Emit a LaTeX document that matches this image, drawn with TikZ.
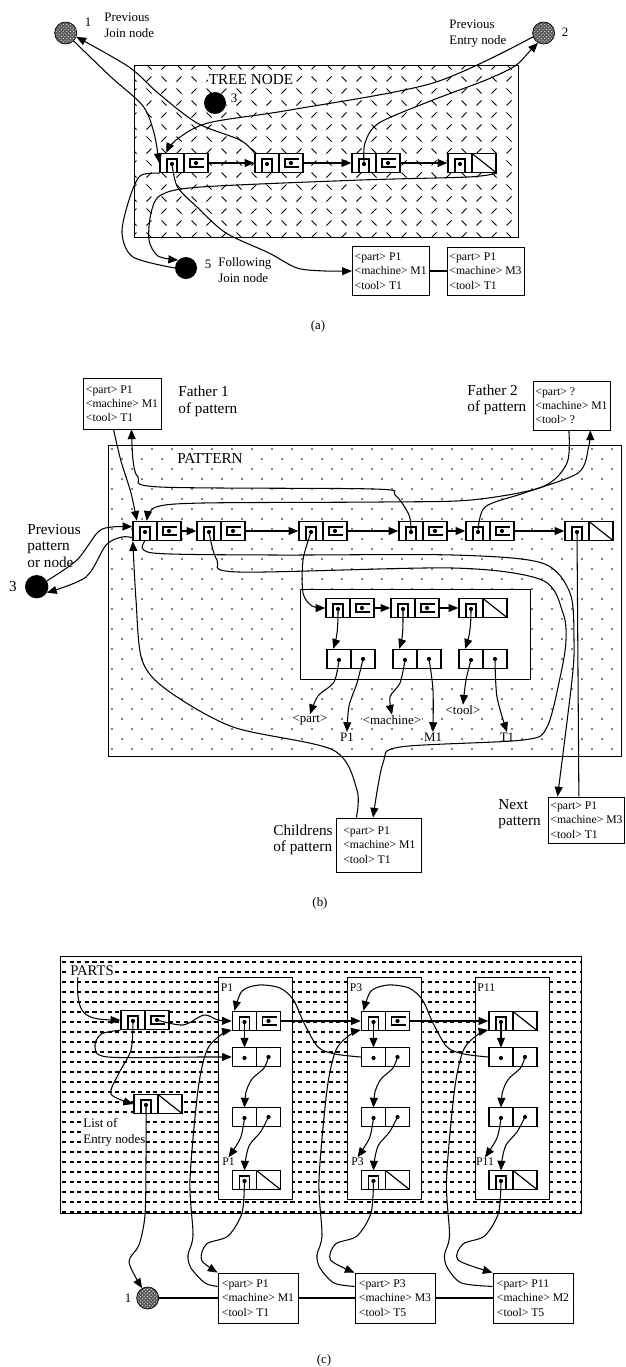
\documentclass[tikz,border=0pt]{standalone}
\usepackage{fontspec}
\setmainfont{Liberation Serif}
\usetikzlibrary{arrows,patterns}

\begin{document}
\begin{tikzpicture}[x=0.03cm,y=-0.03cm,>=triangle 45]
	\tikzset{
		conn/.style={line width=.9pt},
		cellbox/.style={draw,line width=1.3pt,minimum width=1.44cm,minimum height=0.57cm,inner sep=0pt,fill=white},
		glyph/.style={line width=1pt},
		rec/.style={draw,line width=.8pt,fill=white,align=left,inner sep=1.5pt,font=\fontsize{10}{12.2}\selectfont},
		lab/.style={font=\fontsize{13}{14.2}\selectfont,align=left,inner sep=1pt},
		alab/.style={font=\fontsize{11}{13.7}\selectfont,align=left,inner sep=1pt},
		clab/.style={font=\fontsize{10}{12}\selectfont,inner sep=1pt},
		hcirc/.style={circle,draw,line width=.6pt,minimum size=0.66cm,inner sep=0pt,preaction={fill=black!65},pattern=crosshatch dots,pattern color=white},
		bcirc/.style={circle,fill=black,minimum size=0.66cm,inner sep=0pt},
		pics/cell/.style={code={
			\node[cellbox] (-box) at (0,0) {};
			\draw[line width=1.3pt] (0,-9.5) -- (0,9.5);
			\coordinate (-l) at (-12,1);
			\coordinate (-r) at (12,0);
			\coordinate (-lt) at (-12,-9.5);
			\fill (-l) circle (1.8pt);
			\ifcase#1\or
				\draw[glyph] (-17,9.5) -- (-17,-4) -- (-7,-4) -- (-7,9.5);
				\draw[glyph] (20,-4) -- (6,-4) -- (6,4) -- (20,4);
				\fill (-r) circle (1.8pt);
			\or
				\fill (-r) circle (1.8pt);
			\or
				\draw[glyph] (-17,9.5) -- (-17,-4) -- (-7,-4) -- (-7,9.5);
				\draw[glyph] (0,-9.5) -- (24,9.5);
			\fi}}
	}
	\fill[white] (0,0) rectangle (626,1367);
	\useasboundingbox (0,0) rectangle (626,1367);

	\begin{scope}
		\clip (134,65) rectangle (518,237);
		\foreach \i in {0,...,26} \foreach \j in {0,...,14} {
			\pgfmathtruncatemacro{\k}{mod(\i+\j,2)}
			\ifnum\k=0 \draw[line width=.7pt] ({134+15*\i-2.5},{67+12*\j+2.5}) -- ++(5,-5);
			\else \draw[line width=.7pt] ({134+15*\i-2.5},{67+12*\j-2.5}) -- ++(5,5); \fi
		}
	\end{scope}
	\draw[line width=.8pt] (134,65) rectangle (518,237);
	\node[lab,fill=white] (ltree) at (251,80) {TREE NODE};
	\node[hcirc] (a1) at (65.7,33) {};
	\node[alab] (n1) at (88,22) {1};
	\node[alab,anchor=west] (pjn) at (103,25) {Previous\\Join node};
	\node[hcirc] (a2) at (543.6,33) {};
	\node[alab] (n2) at (565,32) {2};
	\node[alab,anchor=west] (pen) at (448,33.5) {Previous\\Entry node};
	\node[bcirc] (a3) at (215,103) {};
	\node[alab] (n3) at (234,98) {3};
	\node[bcirc] (a5) at (186,268) {};
	\node[alab] (n5) at (208,264) {5};
	\node[alab,anchor=west] (fjn) at (217,270) {Following\\Join node};
	\pic (ta1) at (184,163) {cell=1};
	\pic (ta2) at (279,163) {cell=1};
	\pic (ta3) at (376,163) {cell=1};
	\pic (ta4) at (472,163) {cell=3};
	\node[rec,minimum width=2.3cm,minimum height=1.45cm] (ra1) at (390.7,271) {<part> P1\\<machine> M1\\<tool> T1};
	\node[rec,minimum width=2.31cm,minimum height=1.44cm] (ra2) at (485.5,271) {<part> P1\\<machine> M3\\<tool> T1};
	\node[alab] (capa) at (318,326) {(a)};
	\draw[conn,->] (ta1-box.east) -- (ta2-box.west);
	\draw[conn,->] (ta2-box.east) -- (ta3-box.west);
	\draw[conn,->] (ta3-box.east) -- (ta4-box.west);
	\draw[conn,->] plot[smooth] coordinates {(a1.south east) (111,77) (143,106) (154,133) (ta1-box.west)};
	\draw[conn,->] plot[smooth] coordinates {(ta2-box.north west) (240,140) (197,123) (158,93) (129,67) (a1.340)};
	\draw[conn,->] plot[smooth] coordinates {(a2.200) (433,83) (290,110) (208,123) (176,140) (ta1-box.150)};
	\draw[conn,->] plot[smooth] coordinates {(ta3-l) (365,143) (379,123) (433,100) (486,80) (515,66) (529,52) (a2.240)};
	\draw[conn] plot[smooth] coordinates {(ta1-box.south west) (140,176) (129,200) (122,233) (133,257) (a5.west)};
	\draw[conn,->] plot[smooth] coordinates {(ta4-box.south east) (468,177) (361,180) (201,187) (161,195) (151,213) (149,240) (158,256) (a5.north west)};
	\draw[conn,->] plot[smooth] coordinates {(ta1-l) (177.5,187) (197,207) (226,233) (269,253) (297,268) (325,271) (ra1.west)};
	\draw[conn] (ra1.east) -- (ra2.west);

	\begin{scope}
		\clip (108,445) rectangle (621,756);
		\foreach \j in {0,...,31} \foreach \i in {0,...,26} {
			\pgfmathtruncatemacro{\k}{mod(\j,2)}
			\fill ({112+20*\i+10*\k},{449+10*\j}) circle (0.8pt);
		}
	\end{scope}
	\draw[line width=.8pt] (108,445) rectangle (621,756);
	\draw[line width=.6pt,fill=white] (300.7,589) rectangle (530,679);
	\node[lab,fill=white] (lpat) at (210,458) {PATTERN};
	\node[rec,minimum width=2.34cm,minimum height=1.53cm] (fb1) at (122,403.5) {<part> P1\\<machine> M1\\<tool> T1};
	\node[lab,anchor=west] (lf1) at (177,401.5) {Father 1\\of pattern};
	\node[rec,minimum width=2.31cm,minimum height=1.47cm] (fb2) at (571.5,405.5) {<part> ?\\<machine> M1\\<tool> ?};
	\node[lab,anchor=west] (lf2) at (466,400) {Father 2\\of pattern};
	\node[lab,anchor=west] (lpp) at (26,546) {Previous\\pattern\\or node};
	\node[lab] (n3b) at (13,587) {3};
	\node[bcirc,minimum size=.7cm] (b3c) at (36.7,586.7) {};
	\node[rec,minimum width=2.55cm,minimum height=1.62cm] (cb) at (379.4,845) {<part> P1\\<machine> M1\\<tool> T1};
	\node[lab,anchor=east] (lch) at (334,840) {Childrens\\of pattern};
	\node[rec,minimum width=2.25cm,minimum height=1.38cm] (nb) at (586.5,820) {<part> P1\\<machine> M3\\<tool> T1};
	\node[lab,anchor=west] (lnx) at (497,814) {Next\\pattern};
	\node[alab] (capb) at (320,903) {(b)};
	\pic (b1) at (157,531) {cell=1};
	\pic (b2) at (221,531) {cell=1};
	\pic (b3) at (323,531) {cell=1};
	\pic (b4) at (423,531) {cell=1};
	\pic (b5) at (490,531) {cell=1};
	\pic (b6) at (589,531) {cell=3};
	\pic (c1) at (350,608) {cell=1};
	\pic (c2) at (415,608) {cell=1};
	\pic (c3) at (483,608) {cell=3};
	\pic (d1) at (351,659) {cell=2};
	\pic (d2) at (417,659) {cell=2};
	\pic (d3) at (483,659) {cell=2};
	\node[alab,fill=white,inner sep=.5pt] (lpart) at (310,720) {<part>};
	\node[alab,fill=white,inner sep=.5pt] (lp1) at (347,737) {P1};
	\node[alab,fill=white,inner sep=.5pt] (lmach) at (392,720) {<machine>};
	\node[alab,fill=white,inner sep=.5pt] (lm1) at (433,737) {M1};
	\node[alab,fill=white,inner sep=.5pt] (ltool) at (463,710) {<tool>};
	\node[alab,fill=white,inner sep=.5pt] (lt1) at (507,737) {T1};
	\draw[conn,->] (b1-box.east) -- (b2-box.west);
	\draw[conn,->] (b2-box.east) -- (b3-box.west);
	\draw[conn,->] (b3-box.east) -- (b4-box.west);
	\draw[conn,->] (b4-box.east) -- (b5-box.west);
	\draw[conn,->] (b5-box.east) -- (b6-box.west);
	\draw[conn,->] (c1-box.east) -- (c2-box.west);
	\draw[conn,->] (c2-box.east) -- (c3-box.west);
	\draw[conn,->] plot[smooth] coordinates {(fb1.252) (120.7,460) (131,493) (b1-box.153)};
	\draw[conn,->] plot[smooth] coordinates {(b4-l) (409,515) (395,495) (374,489) (160,487) (138,477) (133,460) (fb1.290)};
	\draw[conn,->] plot[smooth] coordinates {(fb2.264) (567,463) (542,487) (471,500) (381,502) (203,503) (156,507) (b1-box.135)};
	\draw[conn,->] plot[smooth] coordinates {(b5-l) (485,507) (524,493) (578,473) (588.6,447) (fb2.307)};
	\draw[conn,->] plot[smooth] coordinates {(b1-box.220) (153,553) (274,555) (453,555) (542,563) (570,593) (574,640) (572,680) (nb.141)};
	\draw[conn,->] plot[smooth] coordinates {(b2-l) (217,560) (239,572) (453,568) (542,580) (563,613) (566,640) (561,673) (547,727) (523,740) (400,747) (383,763) (cb.103)};
	\draw[conn,->] plot[smooth] coordinates {(cb.130) (357,790) (333,750) (233,727) (167,690) (142,660) (136,600) (b1-box.203)};
	\draw[conn] (b6-l) -- (nb.108);
	\draw[conn,->] plot[smooth] coordinates {(b3c.30) (77,560) (98,532) (112,527) (b1-box.170)};
	\draw[conn,->] plot[smooth] coordinates {(b1-box.195) (122,537) (106,545) (86,577) (b3c.330)};
	\draw[conn,->] plot[smooth] coordinates {(b3-l) (303,560) (303,593) (312,606) (c1-box.west)};
	\foreach \k in {1,2,3}
		\draw[conn,->] (c\k-l) .. controls +(0,20) and +(4,-12) .. (d\k-box.150);
	\draw[conn,->] plot[smooth] coordinates {(d1-l) (334,682) (318,696) (lpart.north)};
	\draw[conn,->] plot[smooth] coordinates {(d1-r) (357,683) (349,706) (lp1.north)};
	\draw[conn,->] plot[smooth] coordinates {(d2-l) (400,683) (390,697) (lmach.north)};
	\draw[conn,->] plot[smooth] coordinates {(d2-r) (433,690) (lm1.north)};
	\draw[conn,->] plot[smooth] coordinates {(d3-l) (466,680) (ltool.north)};
	\draw[conn,->] plot[smooth] coordinates {(d3-r) (497,697) (lt1.north)};

	\begin{scope}
		\clip (60,956) rectangle (581,1213);
		\foreach \j in {0,...,25}
			\draw[line width=1.4pt,dash pattern=on 3.5pt off 3pt] (62,{962+10*\j}) -- (581,{962+10*\j});
	\end{scope}
	\draw[line width=.8pt] (60,956) rectangle (581,1213);
	\node[lab,fill=white,font=\fontsize{12.5}{14}\selectfont] (lparts) at (92,971) {PARTS};
	\node[alab,anchor=west,fill=white] (lent) at (82,1132) {List of\\Entry nodes};
	\pic (h) at (145,1020) {cell=1};
	\pic (e) at (158,1104) {cell=3};
	\foreach \n/\x/\ct/\rx/\mc/\tc in {1/256.5/1/258/M1/T1, 3/385.5/1/395/M3/T5, 11/513/3/533/M2/T5} {
		\draw[line width=.6pt,fill=white] ({\x-38},977) rectangle ({\x+36},1199);
		\node[clab,anchor=west] (lp\n) at ({\x-37},988) {P\n};
		\pic (p\n-a) at (\x,1021) {cell=\ct};
		\pic (p\n-b) at (\x,1057) {cell=2};
		\pic (p\n-c) at (\x,1117) {cell=2};
		\pic (p\n-d) at (\x,1180) {cell=3};
		\node[clab,fill=white,inner sep=.5pt] (lq\n) at ({\x-28},1162) {P\n};
		\node[rec,minimum width=2.4cm,minimum height=1.5cm] (rp\n) at (\rx,1298) {<part> P\n\\<machine> \mc\\<tool> \tc};
	}
	\node[hcirc] (pc1) at (147.7,1298) {};
	\node[alab] (nc1) at (128,1298) {1};
	\node[alab] (capc) at (324,1360) {(c)};
	\draw[conn,->] (p1-a-box.east) -- (p3-a-box.west);
	\draw[conn,->] (p3-a-box.east) -- (p11-a-box.west);
	\foreach \a/\b/\x in {1/3/256.5, 3/11/385.5}
		\draw[conn,->] plot[smooth] coordinates {(p\b-b-box.west) ({\x+78.5},1054) ({\x+61.5},1047) ({\x+47.5},1023) ({\x+37},1000) ({\x+23.5},988) ({\x+2.5},985) ({\x-14.5},991) (p\a-a-box.155)};
	\foreach \n/\x in {1/256.5, 3/385.5, 11/513} {
		\draw[conn,->] (p\n-a-l) -- (p\n-b-lt);
		\draw[conn,->] plot[smooth] coordinates {(p\n-b-r) ({\x+7.5},1068) ({\x-4.5},1079) ({\x-10.5},1092) (p\n-c-lt)};
		\draw[conn,->] plot[smooth] coordinates {(p\n-c-l) ({\x-16},1138) (lq\n.north)};
		\draw[conn,->] plot[smooth] coordinates {(p\n-c-r) ({\x+4},1132) ({\x-7},1145) ({\x-11},1160) (p\n-d-lt)};
		\draw[conn,->] plot[smooth] coordinates {(p\n-d-l) ({\x-14.5},1213) ({\x-28.5},1236) ({\x-50},1244) ({\x-55},1260) (rp\n.north west)};
		\draw[conn,->] plot[smooth] coordinates {(rp\n.164) ({\x-51.5},1283) ({\x-65.5},1268) ({\x-68.5},1255) ({\x-63.5},1235) ({\x-66.5},1180) ({\x-58.5},1090) ({\x-49.5},1050) ({\x-34.5},1034) (p\n-a-box.200)};
	}
	\draw[conn,->] (lparts.204) .. controls (76,1016) and (84,1020) .. (h-box.west);
	\draw[conn,->] plot[smooth] coordinates {(h-r) (183,1025) (204,1015) (218,1020) (p1-a-box.west)};
	\draw[conn,->] plot[smooth] coordinates {(h-box.south west) (101,1034) (95,1047) (108,1057) (200,1057) (p1-b-box.west)};
	\draw[conn,->] plot[smooth] coordinates {(h-l) (131,1050) (119,1073) (111,1094) (e-box.west)};
	\draw[conn,->] plot[smooth] coordinates {(e-l) (146,1160) (145,1215) (139,1245) (129,1262) (pc1.120)};
	\draw[conn] (pc1.east) -- (rp1.west);
	\draw[conn] (rp1.east) -- (rp3.west);
	\draw[conn] (rp3.east) -- (rp11.west);
\end{tikzpicture}
\end{document}
